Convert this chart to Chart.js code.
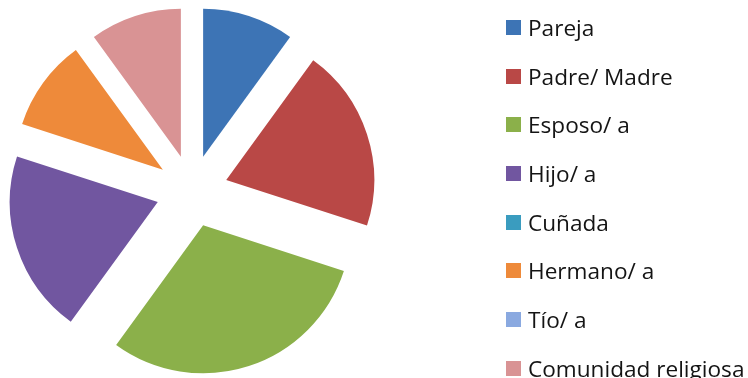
<!DOCTYPE html>
<html>
<head>
<meta charset="utf-8">
<script src="https://cdn.jsdelivr.net/npm/chart.js@4/dist/chart.umd.min.js"></script>
<style>
  html, body { margin: 0; padding: 0; background: #fff; }
  #wrap { position: relative; width: 748px; height: 378px; overflow: hidden; }
  #pie { position: absolute; left: 0; top: 0; }
  #legend {
    position: absolute; left: 506px; top: 3px; margin: 0; padding: 0; list-style: none;
    font-family: "Open Sans", sans-serif; font-size: 22.6px; color: #141414;
  }
  #legend li { display: flex; align-items: center; height: 48.7px; white-space: nowrap; }
  #legend .box { width: 15px; height: 15px; margin-right: 7px; flex: none; }
</style>
</head>
<body>
<div id="wrap">
  <canvas id="pie" width="748" height="378"></canvas>
  <ul id="legend"></ul>
</div>
<script>
// Relationship categories and how many respondents named each one
const categories = ['Pareja', 'Padre/ Madre', 'Esposo/ a', 'Hijo/ a', 'Cuñada', 'Hermano/ a', 'Tío/ a', 'Comunidad religiosa'];
const counts = [1, 2, 3, 2, 0, 1, 0, 1];
const sliceColors = ['#3d74b5', '#b94846', '#8bb04a', '#7156a0', '#3a9cbf', '#ee8a3a', '#8aa9e0', '#d99394'];

// Distance (px) each slice is pulled away from the centre
const EXPLODE = 36;

// Arc that is shifted outward along its bisector, keeping its radius unchanged
class ExplodedArc extends Chart.ArcElement {
  draw(ctx) {
    const mid = (this.startAngle + this.endAngle) / 2;
    ctx.save();
    ctx.translate(Math.cos(mid) * EXPLODE, Math.sin(mid) * EXPLODE);
    super.draw(ctx);
    ctx.restore();
  }
}
ExplodedArc.id = 'explodedArc';

class ExplodedPie extends Chart.PieController {}
ExplodedPie.id = 'explodedPie';
ExplodedPie.defaults = { dataElementType: 'explodedArc' };

Chart.register(ExplodedArc, ExplodedPie);

const chart = new Chart(document.getElementById('pie'), {
  type: 'explodedPie',
  data: {
    labels: categories,
    datasets: [{
      data: counts,
      backgroundColor: sliceColors,
      borderWidth: 0
    }]
  },
  options: {
    responsive: false,
    maintainAspectRatio: false,
    animation: false,
    events: [],
    radius: 148,
    layout: { padding: { left: 0, right: 364, top: 4, bottom: 0 } },
    plugins: {
      legend: { display: false },
      tooltip: { enabled: false }
    }
  }
});

// Legend list built from the chart's own legend items
const legendEl = document.getElementById('legend');
const items = chart.options.plugins.legend.labels.generateLabels(chart);
items.forEach(item => {
  const li = document.createElement('li');
  const box = document.createElement('span');
  box.className = 'box';
  box.style.background = item.fillStyle;
  const txt = document.createElement('span');
  txt.textContent = item.text;
  li.appendChild(box);
  li.appendChild(txt);
  legendEl.appendChild(li);
});
</script>
</body>
</html>
